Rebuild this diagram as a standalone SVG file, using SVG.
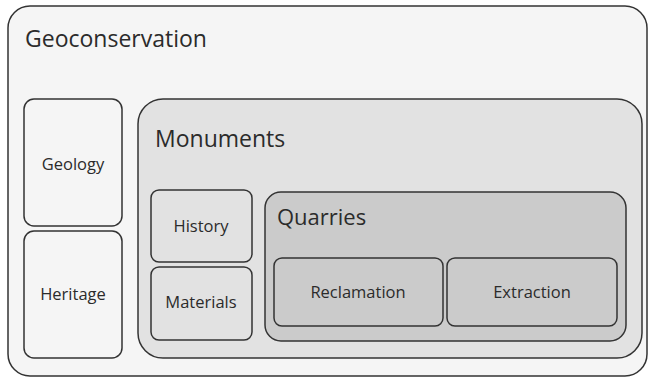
<svg xmlns="http://www.w3.org/2000/svg" width="649" height="378" viewBox="0 0 649 378">
<style>
rect{stroke:#333;stroke-width:1.5}
.l0{fill:#f5f5f5}
.l1{fill:#e2e2e2}
.l2{fill:#cbcbcb}
text{font-family:"Open Sans","Noto Sans","DejaVu Sans",sans-serif;fill:#2b2b2b}
.big{font-size:23px}
.mid{font-size:22px}
.sm{font-size:16.5px;text-anchor:middle}
</style>
<rect width="649" height="378" fill="#ffffff" style="stroke:none"/>
<g id="geoconservation">
<rect class="l0" x="8" y="6" width="639" height="370" rx="22"/>
<text class="big" x="25" y="47">Geoconservation</text>
</g>
<g id="geology">
<rect class="l0" x="24" y="99" width="98" height="127" rx="10"/>
<text class="sm" x="73" y="170">Geology</text>
</g>
<g id="heritage">
<rect class="l0" x="24" y="231" width="98" height="127" rx="10"/>
<text class="sm" x="73" y="300">Heritage</text>
</g>
<g id="monuments">
<rect class="l1" x="138" y="99" width="504" height="259" rx="25"/>
<text class="big" x="155" y="147">Monuments</text>
</g>
<g id="history">
<rect class="l1" x="151" y="190" width="101" height="72" rx="8"/>
<text class="sm" x="201" y="232">History</text>
</g>
<g id="materials">
<rect class="l1" x="151" y="267" width="101" height="73" rx="8"/>
<text class="sm" x="201" y="308">Materials</text>
</g>
<g id="quarries">
<rect class="l2" x="265" y="192" width="361" height="149" rx="16"/>
<text class="mid" x="277" y="225">Quarries</text>
</g>
<g id="reclamation">
<rect class="l2" x="274" y="258" width="169" height="68" rx="8"/>
<text class="sm" x="358" y="298">Reclamation</text>
</g>
<g id="extraction">
<rect class="l2" x="447" y="258" width="170" height="68" rx="8"/>
<text class="sm" x="532" y="298">Extraction</text>
</g>
<g id="connectors"></g>
</svg>
